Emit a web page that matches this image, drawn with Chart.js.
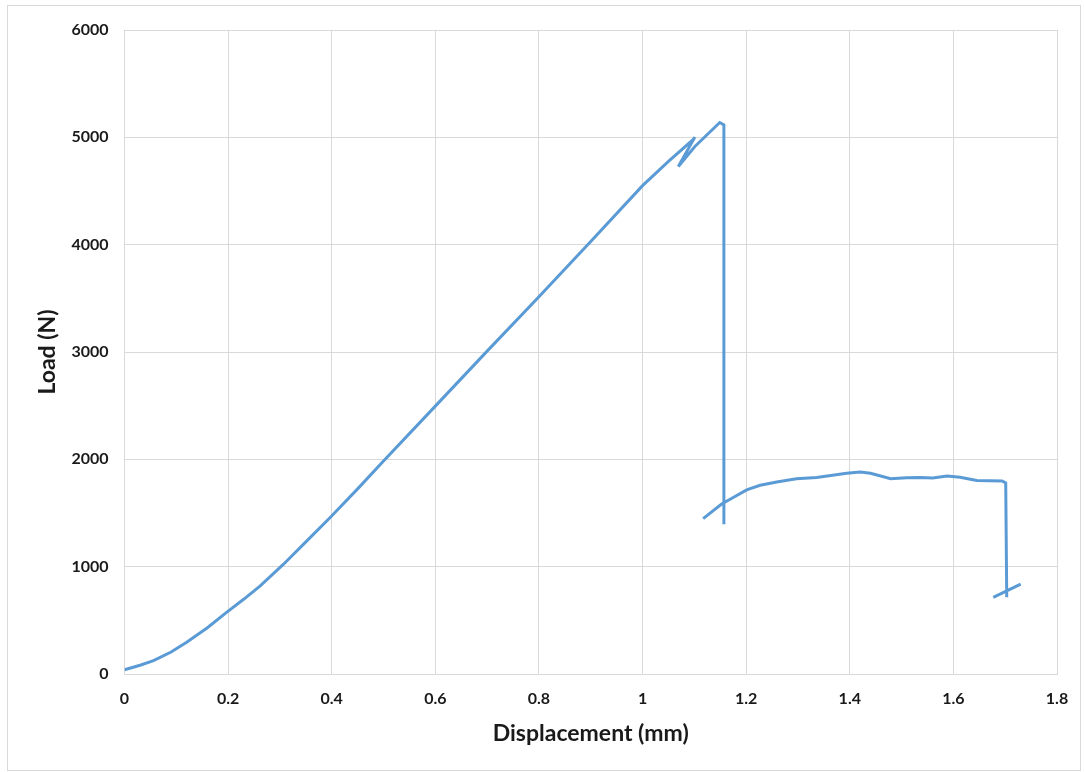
<!DOCTYPE html>
<html>
<head>
<meta charset="utf-8">
<title>Load vs Displacement</title>
<script src="https://cdn.jsdelivr.net/npm/chart.js@4.4.1/dist/chart.umd.min.js"></script>
<style>
    html, body { margin: 0; padding: 0; background: #fff; }
    #wrap { position: relative; width: 1084px; height: 772px; }
    #frame {
        position: absolute; left: 7px; top: 5px;
        width: 1074px; height: 766px;
        border: 1px solid #d9d9d9; box-sizing: border-box;
        pointer-events: none;
    }
</style>
</head>
<body>
<div id="wrap">
    <canvas id="loadChart" width="1084" height="772"></canvas>
    <div id="frame"></div>
</div>
<script>
// Chart data
// null in load = break in the trace
const displacement = [
    0, 0.03, 0.056, 0.09, 0.12, 0.16, 0.197, 0.23, 0.262, 0.307,
    0.352, 0.397, 0.45, 0.5, 0.6, 0.7, 0.8, 0.9, 1.0,
    1.05, 1.098, 1.101, 1.069, 1.101, 1.149, 1.157, 1.157, 1.157,
    1.117, 1.152, 1.175, 1.201, 1.227, 1.259, 1.297, 1.336, 1.36, 1.394,
    1.42, 1.44, 1.479, 1.51, 1.536, 1.56, 1.588, 1.613, 1.645, 1.694,
    1.701, 1.703, 1.703,
    1.677, 1.730
];
const load = [
    40, 82, 124, 205, 295, 431, 574, 696, 821, 1023,
    1240, 1458, 1725, 1985, 2496, 3008, 3515, 4030, 4550,
    4775, 4980, 5002, 4729, 4915, 5138, 5116, 1395, null,
    1448, 1581, 1644, 1715, 1758, 1789, 1820, 1830, 1848, 1870,
    1882, 1870, 1820, 1828, 1830, 1826, 1845, 1833, 1802, 1798,
    1780, 716, null,
    713, 837
];
const xTickLabels = ['0', '0.2', '0.4', '0.6', '0.8', '1', '1.2', '1.4', '1.6', '1.8'];
const yTickLabels = ['0', '1000', '2000', '3000', '4000', '5000', '6000'];

const points = displacement.map((x, i) => ({ x: x, y: load[i] }));

const textColor = '#1a1a1a';
const gridColor = '#d9d9d9';

new Chart(document.getElementById('loadChart'), {
    type: 'line',
    data: {
        datasets: [{
            label: 'Load',
            data: points,
            borderColor: '#5b9bd5',
            borderWidth: 3,
            pointRadius: 0,
            tension: 0,
            spanGaps: false
        }]
    },
    options: {
        responsive: false,
        animation: false,
        layout: { padding: { left: 8, top: 30, right: 27, bottom: 8 } },
        plugins: {
            legend: { display: false },
            tooltip: { enabled: false }
        },
        scales: {
            x: {
                type: 'linear',
                min: 0,
                max: 1.8,
                afterFit: (scale) => { scale.height = 772 - 674 - 8; },
                grid: { color: gridColor, drawTicks: false },
                border: { color: gridColor },
                ticks: {
                    stepSize: 0.2,
                    padding: 15,
                    color: textColor,
                    font: { family: 'Lato', size: 16, weight: 'bold' },
                    callback: (v, i) => xTickLabels[i]
                },
                title: {
                    display: true,
                    text: 'Displacement (mm)',
                    color: textColor,
                    font: { family: 'Lato', size: 23, weight: 'bold' },
                    padding: { top: 0, bottom: 17 }
                }
            },
            y: {
                min: 0,
                max: 6000,
                afterFit: (scale) => { scale.width = 124.5 - 8; },
                grid: { color: gridColor, drawTicks: false },
                border: { color: gridColor },
                ticks: {
                    stepSize: 1000,
                    padding: 16,
                    color: textColor,
                    font: { family: 'Lato', size: 16, weight: 'bold' },
                    callback: (v, i) => yTickLabels[i]
                },
                title: {
                    display: true,
                    text: 'Load (N)',
                    color: textColor,
                    font: { family: 'Lato', size: 23, weight: 'bold' },
                    padding: { top: 26, bottom: 0 }
                }
            }
        }
    }
});
</script>
</body>
</html>
